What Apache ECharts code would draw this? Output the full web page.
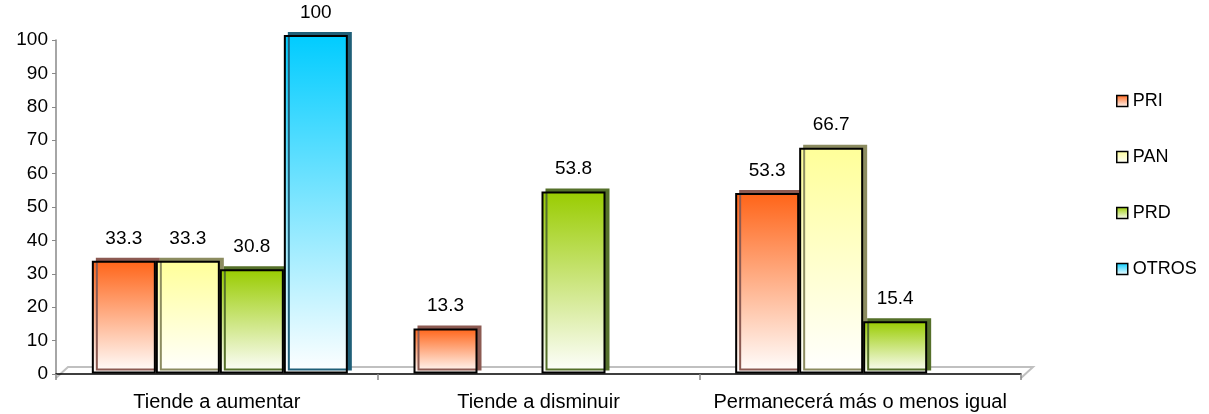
<!DOCTYPE html>
<html>
<head>
<meta charset="utf-8">
<script src="https://cdn.jsdelivr.net/npm/echarts@6/dist/echarts.min.js"></script>
<style>
html,body{margin:0;padding:0;background:#fff;}
#chart{width:1209px;height:414px;}
</style>
</head>
<body>
<div id="chart"></div>
<script>
const categories = ['Tiende a aumentar', 'Tiende a disminuir', 'Permanecerá más o menos igual'];
const seriesNames = ['PRI', 'PAN', 'PRD', 'OTROS'];
const PRI = [33.3, 13.3, 53.3];
const PAN = [33.3, null, 66.7];
const PRD = [30.8, 53.8, 15.4];
const OTROS = [100, null, null];
const yTicks = [0, 10, 20, 30, 40, 50, 60, 70, 80, 90, 100];

const values = [PRI, PAN, PRD, OTROS];
const topColors = ['#ff6418', '#ffff99', '#99cc00', '#00ccff'];
const sideColors = ['#8c5a52', '#8c8c60', '#55702a', '#1f5f78'];
const FONT = 'Liberation Sans, Arial, sans-serif';

function grad(c) {
  return new echarts.graphic.LinearGradient(0, 0, 0, 1, [
    {offset: 0, color: c},
    {offset: 1, color: '#ffffff'}
  ]);
}

const chart = echarts.init(document.getElementById('chart'), null, {renderer: 'canvas'});

const series = seriesNames.map((name, i) => ({
  name: name,
  type: 'bar',
  xAxisIndex: 0,
  yAxisIndex: 0,
  data: values[i],
  barWidth: 64,
  barGap: '0%',
  itemStyle: {
    color: grad(topColors[i]),
    borderColor: '#000',
    borderWidth: 2,
    shadowColor: sideColors[i],
    shadowBlur: 0,
    shadowOffsetX: 4,
    shadowOffsetY: -3
  },
  label: {
    show: true,
    position: 'top',
    distance: 13,
    color: '#000',
    fontFamily: FONT,
    fontSize: 19,
    formatter: p => (p.value == null ? '' : String(p.value))
  }
}));

const option = {
  animation: false,
  backgroundColor: '#ffffff',
  textStyle: {fontFamily: FONT},
  legend: {
    orient: 'vertical',
    left: 1111,
    top: 87,
    itemWidth: 11,
    itemHeight: 11,
    itemGap: 38,
    icon: 'rect',
    data: seriesNames,
    itemStyle: {borderColor: '#000', borderWidth: 1.5, shadowBlur: 0, shadowOffsetX: 0, shadowOffsetY: 0},
    textStyle: {color: '#000', fontSize: 18, fontFamily: FONT}
  },
  grid: [
    {left: 59, right: 185, top: 35, bottom: 40.5},
    {left: 56, right: 188, top: 40, bottom: 40}
  ],
  xAxis: [
    {
      type: 'category', gridIndex: 0, data: categories,
      axisLine: {show: false}, axisTick: {show: false}, axisLabel: {show: false}
    },
    {
      type: 'category', gridIndex: 1, data: categories,
      offset: 4,
      axisLine: {lineStyle: {color: '#000', width: 1.5}},
      axisTick: {show: true, interval: 0, length: 6, lineStyle: {color: '#888', width: 1.5}},
      axisLabel: {color: '#000', fontSize: 20, margin: 14, interval: 0, hideOverlap: false, fontFamily: FONT}
    }
  ],
  yAxis: [
    {
      type: 'value', gridIndex: 0,
      min: yTicks[0], max: yTicks[yTicks.length - 1], interval: 10,
      show: false
    },
    {
      type: 'value', gridIndex: 1,
      min: yTicks[0], max: yTicks[yTicks.length - 1], interval: 10,
      axisLine: {show: true, lineStyle: {color: '#888', width: 1.5}},
      axisTick: {show: true, length: 4, lineStyle: {color: '#888'}},
      splitLine: {show: false},
      axisLabel: {color: '#000', fontSize: 19, margin: 8, fontFamily: FONT}
    }
  ],
  series: series
};
chart.setOption(option);

// floor outline (3D back edge), positioned via the chart's own grid
const gridRect = chart.getModel().getComponent('grid', 1).coordinateSystem.getRect();
const frontY = gridRect.y + gridRect.height + 4;
const backY = frontY - 11;
const dx = 12;
chart.setOption({
  graphic: [{
    type: 'polyline',
    z: -1,
    silent: true,
    shape: {points: [
      [gridRect.x, frontY],
      [gridRect.x + dx, backY],
      [gridRect.x + gridRect.width + dx, backY],
      [gridRect.x + gridRect.width, frontY]
    ]},
    style: {stroke: '#c0c0c0', lineWidth: 2, fill: null}
  }]
});
</script>
</body>
</html>
